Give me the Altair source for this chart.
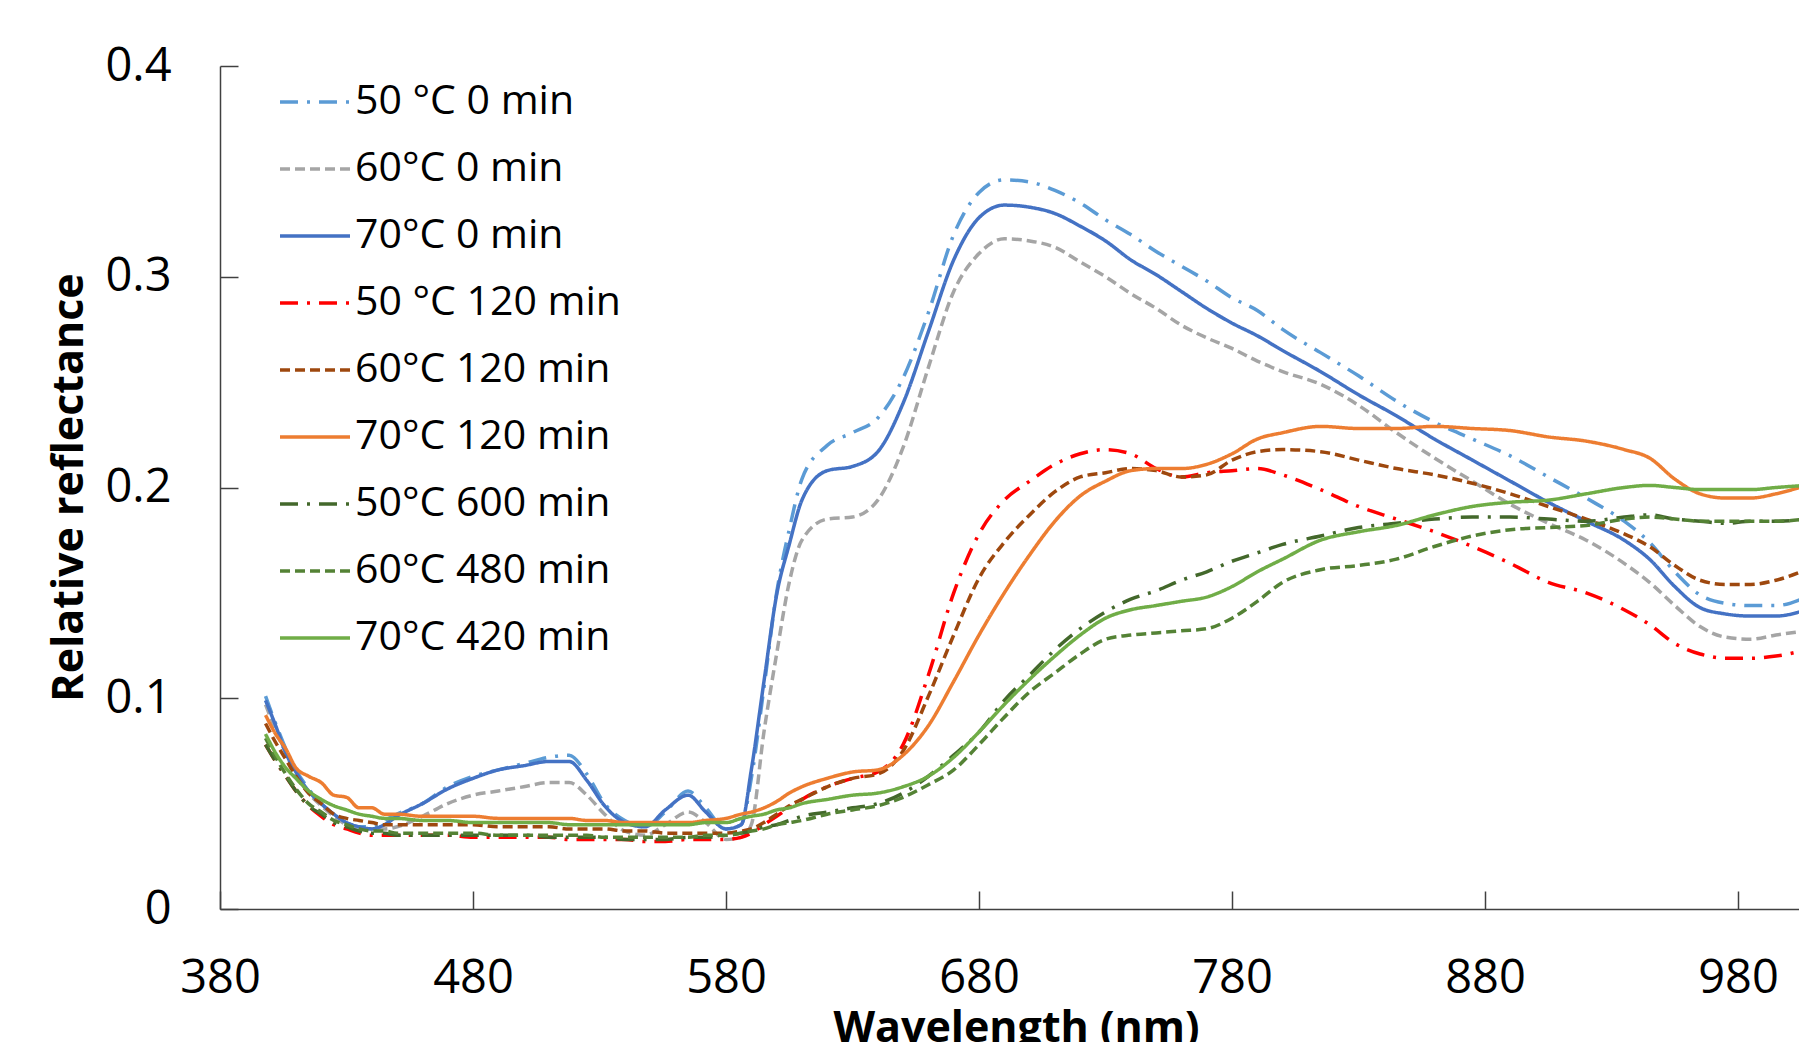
import altair as alt
import pandas as pd

WL = [398, 402, 406, 410, 415, 420, 425, 430, 435, 440,
      445, 450, 460, 470, 480, 490, 500, 510, 518, 525,
      532, 540, 548, 556, 565, 572, 580, 586, 590, 595,
      600, 605, 610, 620, 630, 640, 650, 660, 670, 680,
      690, 700, 710, 720, 730, 740, 750, 760, 770, 780,
      790, 800, 815, 830, 845, 860, 875, 890, 905, 920,
      935, 945, 955, 965, 975, 985, 995, 1007]

S50_0 = [0.101, 0.088, 0.076, 0.066, 0.057, 0.050, 0.045, 0.041, 0.039, 0.039,
         0.042, 0.045, 0.050, 0.058, 0.063, 0.066, 0.069, 0.072, 0.073, 0.064,
         0.050, 0.042, 0.039, 0.046, 0.056, 0.048, 0.038, 0.040, 0.062, 0.105,
         0.150, 0.180, 0.204, 0.220, 0.226, 0.233, 0.252, 0.283, 0.320, 0.340,
         0.346, 0.345, 0.341, 0.335, 0.327, 0.320, 0.312, 0.305, 0.298, 0.290,
         0.284, 0.275, 0.264, 0.253, 0.241, 0.231, 0.223, 0.215, 0.205, 0.195,
         0.184, 0.174, 0.160, 0.149, 0.145, 0.144, 0.144, 0.148]

S60_0 = [0.097, 0.085, 0.074, 0.064, 0.055, 0.049, 0.044, 0.040, 0.038, 0.038,
         0.038, 0.039, 0.044, 0.050, 0.054, 0.056, 0.058, 0.060, 0.060, 0.054,
         0.045, 0.037, 0.035, 0.040, 0.046, 0.041, 0.033, 0.034, 0.040, 0.084,
         0.121, 0.155, 0.175, 0.185, 0.186, 0.194, 0.219, 0.257, 0.293, 0.311,
         0.318, 0.317, 0.314, 0.307, 0.300, 0.292, 0.285, 0.277, 0.271, 0.266,
         0.260, 0.255, 0.249, 0.239, 0.226, 0.214, 0.203, 0.192, 0.183, 0.175,
         0.164, 0.155, 0.144, 0.134, 0.129, 0.128, 0.130, 0.132]

S70_0 = [0.099, 0.087, 0.074, 0.065, 0.056, 0.050, 0.045, 0.041, 0.039, 0.038,
         0.040, 0.044, 0.050, 0.057, 0.062, 0.066, 0.068, 0.070, 0.070, 0.061,
         0.049, 0.041, 0.039, 0.047, 0.054, 0.046, 0.038, 0.040, 0.066, 0.108,
         0.149, 0.173, 0.194, 0.208, 0.210, 0.217, 0.240, 0.274, 0.308, 0.328,
         0.334, 0.333, 0.330, 0.324, 0.317, 0.308, 0.301, 0.293, 0.285, 0.278,
         0.272, 0.265, 0.255, 0.244, 0.234, 0.223, 0.213, 0.203, 0.193, 0.184,
         0.175, 0.166, 0.153, 0.143, 0.140, 0.139, 0.139, 0.142]

S50_120 = [0.078, 0.070, 0.063, 0.056, 0.049, 0.044, 0.040, 0.038, 0.036, 0.035,
           0.035, 0.035, 0.035, 0.035, 0.034, 0.034, 0.034, 0.034, 0.033, 0.033,
           0.033, 0.033, 0.032, 0.032, 0.033, 0.033, 0.033, 0.034, 0.036, 0.040,
           0.044, 0.048, 0.052, 0.058, 0.062, 0.065, 0.078, 0.111, 0.150, 0.178,
           0.194, 0.203, 0.211, 0.216, 0.218, 0.216, 0.209, 0.205, 0.207, 0.208,
           0.209, 0.206, 0.199, 0.191, 0.185, 0.179, 0.172, 0.164, 0.155, 0.150,
           0.142, 0.135, 0.126, 0.121, 0.119, 0.119, 0.120, 0.123]

S60_120 = [0.088, 0.079, 0.071, 0.063, 0.055, 0.050, 0.045, 0.043, 0.042, 0.041,
           0.040, 0.040, 0.040, 0.040, 0.040, 0.039, 0.039, 0.039, 0.038, 0.038,
           0.038, 0.037, 0.037, 0.036, 0.036, 0.036, 0.036, 0.037, 0.038, 0.041,
           0.045, 0.049, 0.052, 0.058, 0.062, 0.064, 0.075, 0.101, 0.130, 0.157,
           0.174, 0.187, 0.198, 0.205, 0.207, 0.209, 0.208, 0.205, 0.206, 0.213,
           0.217, 0.218, 0.217, 0.213, 0.209, 0.206, 0.202, 0.197, 0.191, 0.185,
           0.178, 0.172, 0.163, 0.156, 0.154, 0.154, 0.156, 0.161]

S70_120 = [0.092, 0.083, 0.076, 0.067, 0.063, 0.060, 0.054, 0.053, 0.048, 0.048,
           0.045, 0.045, 0.044, 0.044, 0.044, 0.043, 0.043, 0.043, 0.043, 0.042,
           0.042, 0.041, 0.041, 0.041, 0.041, 0.042, 0.043, 0.045, 0.046, 0.048,
           0.051, 0.055, 0.058, 0.062, 0.065, 0.066, 0.073, 0.087, 0.108, 0.130,
           0.150, 0.168, 0.184, 0.196, 0.203, 0.208, 0.209, 0.209, 0.211, 0.216,
           0.223, 0.226, 0.229, 0.228, 0.228, 0.229, 0.228, 0.227, 0.224, 0.222,
           0.218, 0.214, 0.204, 0.197, 0.195, 0.195, 0.197, 0.201]

S50_600 = [0.078, 0.070, 0.063, 0.056, 0.049, 0.045, 0.041, 0.039, 0.037, 0.036,
           0.036, 0.035, 0.035, 0.035, 0.035, 0.035, 0.035, 0.034, 0.034, 0.034,
           0.034, 0.033, 0.033, 0.033, 0.034, 0.034, 0.035, 0.036, 0.037, 0.039,
           0.040, 0.042, 0.044, 0.046, 0.048, 0.050, 0.055, 0.063, 0.073, 0.084,
           0.099, 0.111, 0.123, 0.133, 0.141, 0.147, 0.151, 0.156, 0.160, 0.165,
           0.169, 0.173, 0.177, 0.181, 0.183, 0.185, 0.186, 0.186, 0.185, 0.184,
           0.186, 0.187, 0.185, 0.184, 0.183, 0.184, 0.184, 0.185]

S60_480 = [0.081, 0.072, 0.064, 0.057, 0.050, 0.046, 0.042, 0.040, 0.038, 0.037,
           0.037, 0.036, 0.036, 0.036, 0.036, 0.035, 0.035, 0.035, 0.035, 0.035,
           0.034, 0.034, 0.034, 0.034, 0.034, 0.035, 0.035, 0.036, 0.037, 0.038,
           0.040, 0.041, 0.042, 0.045, 0.047, 0.049, 0.053, 0.059, 0.066, 0.078,
           0.091, 0.103, 0.112, 0.121, 0.128, 0.130, 0.131, 0.132, 0.133, 0.138,
           0.146, 0.155, 0.161, 0.163, 0.166, 0.172, 0.177, 0.180, 0.181, 0.182,
           0.185, 0.186, 0.185, 0.184, 0.184, 0.184, 0.184, 0.185]

S70_420 = [0.083, 0.074, 0.067, 0.062, 0.056, 0.052, 0.049, 0.047, 0.045, 0.044,
           0.043, 0.043, 0.042, 0.042, 0.041, 0.041, 0.041, 0.041, 0.040, 0.040,
           0.040, 0.040, 0.040, 0.040, 0.040, 0.041, 0.041, 0.043, 0.044, 0.045,
           0.047, 0.048, 0.050, 0.052, 0.054, 0.055, 0.058, 0.063, 0.072, 0.084,
           0.097, 0.109, 0.120, 0.130, 0.138, 0.142, 0.144, 0.146, 0.148, 0.153,
           0.160, 0.166, 0.175, 0.179, 0.182, 0.187, 0.191, 0.193, 0.194, 0.197,
           0.200, 0.201, 0.200, 0.199, 0.199, 0.199, 0.200, 0.201]

NAMES = ["50 °C 0 min", "60°C 0 min", "70°C 0 min",
         "50 °C 120 min", "60°C 120 min", "70°C 120 min",
         "50°C 600 min", "60°C 480 min", "70°C 420 min"]
VALUES = [S50_0, S60_0, S70_0, S50_120, S60_120, S70_120, S50_600, S60_480, S70_420]
COLORS = ["#5B9BD5", "#A5A5A5", "#4472C4",
          "#FF0000", "#9E480E", "#ED7D31",
          "#43682B", "#548235", "#70AD47"]
DASHDOT = [18, 9, 3, 9]
DASHED = [10, 5]
SOLID = [1, 0]
DASHES = [DASHDOT, DASHED, SOLID, DASHDOT, DASHED, SOLID, DASHDOT, DASHED, SOLID]

X_TICKS = [380, 480, 580, 680, 780, 880, 980]
Y_TICKS = [0, 0.1, 0.2, 0.3, 0.4]

rows = []
for name, vals in zip(NAMES, VALUES):
    for w, v in zip(WL, vals):
        rows.append({"series": name, "wl": w, "r": v})
df = pd.DataFrame(rows)

FONT = "Open Sans"
AX = "#404040"
PW, PH = 1579, 843

xscale = alt.Scale(domain=[380, 1004.1], nice=False, zero=False)
yscale = alt.Scale(domain=[0, 0.4], nice=False, zero=True)

legend = alt.Legend(
    title=None, orient="none", legendX=58, legendY=-1, padding=0,
    symbolType="stroke", symbolSize=4900, symbolStrokeWidth=3.5,
    labelFont=FONT, labelFontSize=41, labelColor="black", labelLimit=0,
    labelOffset=3, rowPadding=10,
)

lines = alt.Chart(df).mark_line(interpolate="monotone", strokeWidth=3.5, clip=True).encode(
    x=alt.X("wl:Q", scale=xscale,
            axis=alt.Axis(values=X_TICKS, orient="bottom", title="Wavelength (nm)",
                          ticks=False, tickSize=0, grid=False,
                          labelFont=FONT, labelFontSize=47, labelColor="black",
                          labelPadding=46, labelFlush=False, labelOverlap=False,
                          domainColor=AX, domainWidth=1.5,
                          titleFont=FONT, titleFontSize=43, titleFontWeight="bold",
                          titleColor="black", titleX=796, titleY=132,
                          titleBaseline="alphabetic", titleAlign="center")),
    y=alt.Y("r:Q", scale=yscale,
            axis=alt.Axis(values=Y_TICKS, orient="left", format=".1~f",
                          title="Relative reflectance",
                          ticks=False, tickSize=0, grid=False,
                          labelFont=FONT, labelFontSize=47, labelColor="black",
                          labelPadding=49, labelFlush=False, labelOverlap=False,
                          domainColor=AX, domainWidth=1.5,
                          titleFont=FONT, titleFontSize=43, titleFontWeight="bold",
                          titleColor="black", titleX=-138, titleY=421, titleAngle=270,
                          titleBaseline="alphabetic", titleAlign="center")),
    color=alt.Color("series:N", scale=alt.Scale(domain=NAMES, range=COLORS), legend=legend),
    strokeDash=alt.StrokeDash("series:N", scale=alt.Scale(domain=NAMES, range=DASHES), legend=legend),
    detail="series:N",
)

ticks = alt.Chart(df).mark_line(opacity=0).encode(
    x=alt.X("wl:Q", scale=xscale,
            axis=alt.Axis(values=X_TICKS, orient="top", offset=-PH, labels=False,
                          domain=False, grid=False, ticks=True, tickSize=18,
                          tickColor=AX, tickWidth=1.5, title=None)),
    y=alt.Y("r:Q", scale=yscale,
            axis=alt.Axis(values=Y_TICKS, orient="right", offset=-PW, labels=False,
                          domain=False, grid=False, ticks=True, tickSize=18,
                          tickColor=AX, tickWidth=1.5, title=None)),
    detail="series:N",
)

chart = alt.layer(ticks, lines).resolve_axis(x="independent", y="independent").properties(
    width=PW, height=PH,
    autosize=alt.AutoSizeParams(type="none"),
    padding={"left": 212, "top": 58, "right": 0, "bottom": 133},
    background="white",
).configure_view(stroke=None)

chart.save("out.html", embed_options={"renderer": "svg", "actions": False})
